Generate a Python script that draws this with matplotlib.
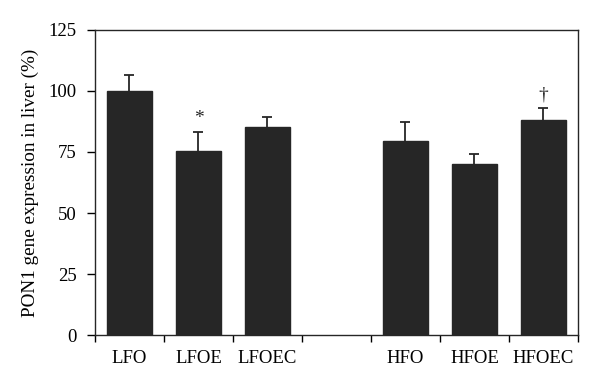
import matplotlib
matplotlib.use("Agg")
import matplotlib.pyplot as plt
import numpy as np

categories = ["LFO", "LFOE", "LFOEC", "HFO", "HFOE", "HFOEC"]
positions = [0, 1, 2, 4, 5, 6]
values = [100.0, 75.5, 85.4, 79.6, 70.2, 88.0]
errors = [6.4, 7.8, 3.9, 7.8, 4.1, 4.9]
marks = ["", "*", "", "", "", "\u2020"]
yticks = [0, 25, 50, 75, 100, 125]

plt.rcParams['font.family'] = ['Liberation Serif', 'DejaVu Serif']

fig = plt.figure(figsize=(6.0, 3.86), dpi=100)
ax = fig.add_axes([0.1583, 0.1321, 0.805, 0.7902])

ax.bar(positions, values, width=0.66, color="#262626", edgecolor="#262626", zorder=2)
eb = ax.errorbar(positions, values, yerr=[np.zeros(len(errors)), errors], fmt="none",
                 ecolor="#262626", elinewidth=1.3, capsize=3.5, capthick=1.3, zorder=1)
eb[1][0].set_visible(False)

for p, v, e, m in zip(positions, values, errors, marks):
    if m:
        ax.text(p, v + e + 1.8, m, ha="center", va="bottom", fontsize=14, color="#262626")

ax.set_xlim(-0.5, 6.5)
ax.set_ylim(0, 125)
ax.set_yticks(yticks)
ax.set_yticklabels([str(t) for t in yticks], fontsize=13.5)
ax.set_xticks(np.arange(-0.5, 7.0, 1.0))
ax.set_xticklabels([])
ax.set_xticks(positions, minor=True)
ax.set_xticklabels(categories, minor=True, fontsize=13.5)
ax.tick_params(axis="x", which="minor", length=0, pad=11)
ax.tick_params(axis="x", which="major", direction="out", length=5, width=1)
ax.tick_params(axis="y", direction="out", length=6, width=1, pad=7)
for s in ax.spines.values():
    s.set_linewidth(1.0)
    s.set_color("#262626")

ax.set_ylabel("PON1 gene expression in liver (%)", fontsize=13.8, labelpad=7)

fig.savefig("out.png", dpi=100)
